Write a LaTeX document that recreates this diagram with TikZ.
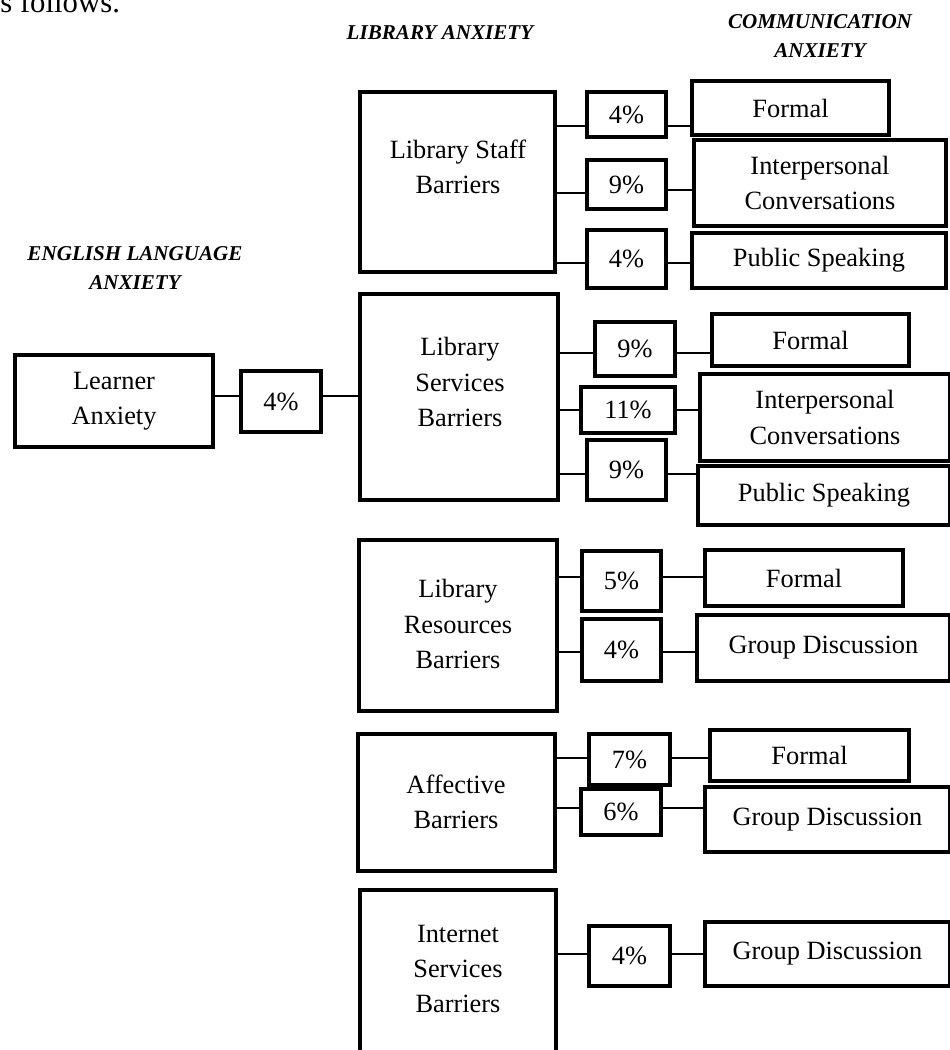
\documentclass[tikz,border=0pt]{standalone}
\usepackage{fontspec}
\setmainfont{Liberation Serif}
\usepackage{tikz}

\begin{document}
\begin{tikzpicture}[
  x=0.2mm,y=-0.2mm,
  box/.style={rectangle,draw,line width=2.3pt,inner sep=0pt,align=center,font=\fontsize{15}{20}\selectfont},
  txt/.style={inner sep=0pt,align=center,font=\fontsize{15}{20}\selectfont},
  head/.style={inner sep=0pt,align=center,font=\fontsize{12}{16}\selectfont\bfseries\itshape},
  wire/.style={line width=0.7pt}
]
\useasboundingbox (0,0) rectangle (950,1050);
\node[anchor=base west,inner sep=0pt,font=\fontsize{17.5}{21}\selectfont] (lead) at (0,12) {s follows.};
% column headings
\node[head] (hengl) at (135,268) {ENGLISH LANGUAGE\\ANXIETY};
\node[head] (hlib) at (440,33) {LIBRARY ANXIETY};
\node[head] (hcomm) at (820,36) {COMMUNICATION\\ANXIETY};
% learner anxiety
\node[box,minimum width=3.96cm,minimum height=1.84cm] (learn) at (114,401) {Learner\\Anxiety};
\node[box,minimum width=1.6cm,minimum height=1.22cm] (p0) at (281,401.5) {4\%};
% library anxiety barriers
\node[box,minimum width=3.9cm,minimum height=3.6cm] (staff) at (457.5,182) {};
\node[txt] (staff-t) at (458,167) {Library Staff\\Barriers};
\node[box,minimum width=3.96cm,minimum height=4.12cm] (serv) at (459,397) {};
\node[txt] (serv-t) at (460,382) {Library\\Services\\Barriers};
\node[box,minimum width=3.96cm,minimum height=3.42cm] (res) at (458,625.5) {};
\node[txt] (res-t) at (458,624) {Library\\Resources\\Barriers};
\node[box,minimum width=3.94cm,minimum height=2.74cm] (aff) at (456.5,802.5) {};
\node[txt] (aff-t) at (456,802) {Affective\\Barriers};
\node[box,minimum width=3.92cm,minimum height=4.36cm] (net) at (458,999) {};
\node[txt] (net-t) at (458,969) {Internet\\Services\\Barriers};
% percentages
\node[box,minimum width=1.58cm,minimum height=0.9cm] (pa1) at (626.5,114.5) {4\%};
\node[box,minimum width=1.58cm,minimum height=0.98cm] (pa2) at (626.5,184.5) {9\%};
\node[box,minimum width=1.58cm,minimum height=1.16cm] (pa3) at (626.5,259) {4\%};
\node[box,minimum width=1.6cm,minimum height=1.08cm] (pb1) at (635,349) {9\%};
\node[box,minimum width=1.88cm,minimum height=0.92cm] (pb2) at (628,410) {11\%};
\node[box,minimum width=1.58cm,minimum height=1.2cm] (pb3) at (626.5,470) {9\%};
\node[box,minimum width=1.58cm,minimum height=1.2cm] (pc1) at (621.5,581) {5\%};
\node[box,minimum width=1.58cm,minimum height=1.24cm] (pc2) at (621.5,650) {4\%};
\node[box,minimum width=1.62cm,minimum height=1.02cm] (pd1) at (629.5,759.5) {7\%};
\node[box,minimum width=1.6cm,minimum height=0.92cm] (pd2) at (621,812) {6\%};
\node[box,minimum width=1.62cm,minimum height=1.2cm] (pe1) at (629.5,956) {4\%};
% communication anxiety
\node[box,minimum width=3.94cm,minimum height=1.08cm] (ca1) at (790.5,108) {Formal};
\node[box,minimum width=5.04cm,minimum height=1.72cm] (ca2) at (820,183) {Interpersonal\\Conversations};
\node[box,minimum width=5.08cm,minimum height=1.1cm] (ca3) at (819,260.5) {Public Speaking};
\node[box,minimum width=3.94cm,minimum height=1.04cm] (cb1) at (810.5,340) {Formal};
\node[box,minimum width=5cm,minimum height=1.74cm] (cb2) at (825,417.5) {Interpersonal\\Conversations};
\node[box,minimum width=5.04cm,minimum height=1.18cm] (cb3) at (824,495.5) {Public Speaking};
\node[box,minimum width=3.96cm,minimum height=1.12cm] (cc1) at (804,578) {Formal};
\node[box,minimum width=5.06cm,minimum height=1.32cm] (cc2) at (823.5,648) {Group Discussion};
\node[box,minimum width=3.98cm,minimum height=1.02cm] (cd1) at (809.5,755.5) {Formal};
\node[box,minimum width=4.9cm,minimum height=1.3cm] (cd2) at (827.5,819.5) {Group Discussion};
\node[box,minimum width=4.9cm,minimum height=1.28cm] (ce1) at (827.5,954) {Group Discussion};
% wires
\draw[wire] (learn.east |- 0,396) -- (p0.west |- 0,396);
\draw[wire] (p0.east |- 0,396) -- (serv.west |- 0,396);
\draw[wire] (staff.east |- 0,126) -- (pa1.west |- 0,126);
\draw[wire] (pa1.east |- 0,126) -- (ca1.west |- 0,126);
\draw[wire] (staff.east |- 0,193) -- (pa2.west |- 0,193);
\draw[wire] (pa2.east |- 0,190) -- (ca2.west |- 0,190);
\draw[wire] (staff.east |- 0,263) -- (pa3.west |- 0,263);
\draw[wire] (pa3.east |- 0,263) -- (ca3.west |- 0,263);
\draw[wire] (serv.east |- 0,353) -- (pb1.west |- 0,353);
\draw[wire] (pb1.east |- 0,353) -- (cb1.west |- 0,353);
\draw[wire] (serv.east |- 0,410) -- (pb2.west |- 0,410);
\draw[wire] (pb2.east |- 0,410) -- (cb2.west |- 0,410);
\draw[wire] (serv.east |- 0,474) -- (pb3.west |- 0,474);
\draw[wire] (pb3.east |- 0,474) -- (cb3.west |- 0,474);
\draw[wire] (res.east |- 0,577) -- (pc1.west |- 0,577);
\draw[wire] (pc1.east |- 0,577) -- (cc1.west |- 0,577);
\draw[wire] (res.east |- 0,652) -- (pc2.west |- 0,652);
\draw[wire] (pc2.east |- 0,652) -- (cc2.west |- 0,652);
\draw[wire] (aff.east |- 0,758) -- (pd1.west |- 0,758);
\draw[wire] (pd1.east |- 0,758) -- (cd1.west |- 0,758);
\draw[wire] (aff.east |- 0,808) -- (pd2.west |- 0,808);
\draw[wire] (pd2.east |- 0,808) -- (cd2.west |- 0,808);
\draw[wire] (net.east |- 0,954) -- (pe1.west |- 0,954);
\draw[wire] (pe1.east |- 0,954) -- (ce1.west |- 0,954);
\end{tikzpicture}
\end{document}
